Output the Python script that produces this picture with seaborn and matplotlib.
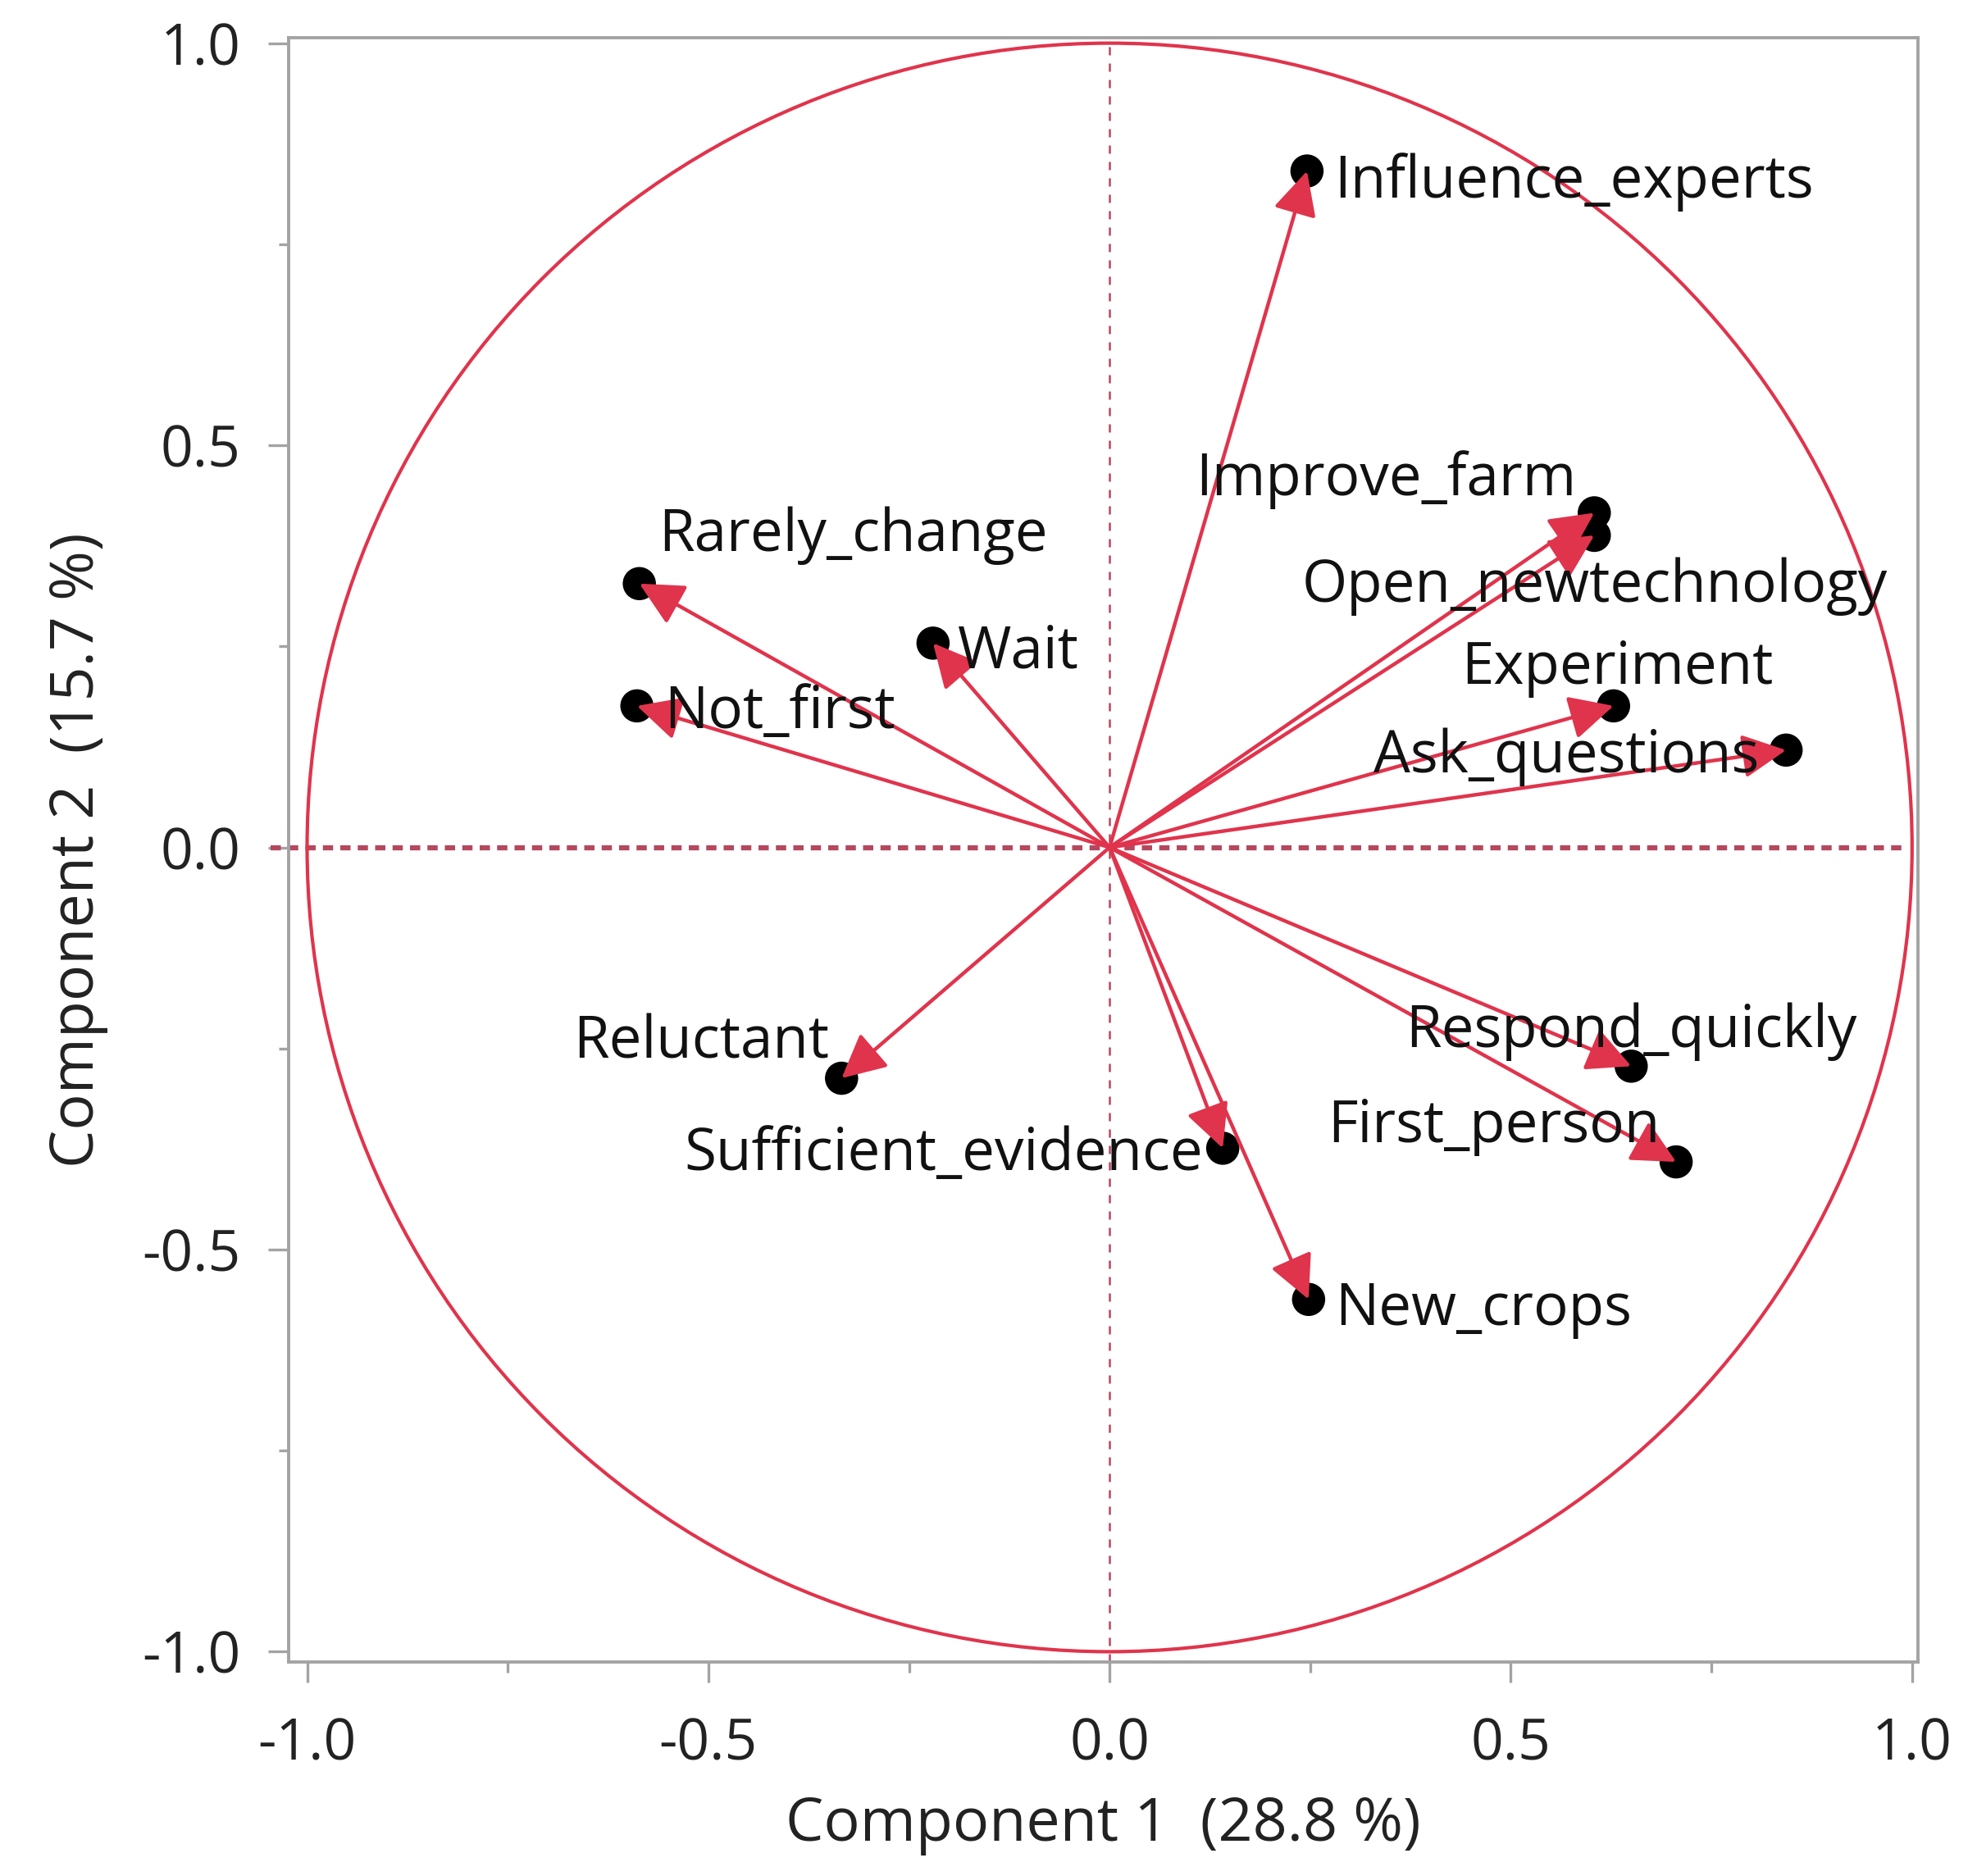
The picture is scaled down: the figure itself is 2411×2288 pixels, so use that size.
import numpy as np
import pandas as pd
import matplotlib
matplotlib.use("Agg")
import matplotlib.pyplot as plt
from matplotlib.patches import Circle
from matplotlib.ticker import MultipleLocator
import seaborn as sns

# ---------------- data ----------------
variables = ["Influence_experts", "Improve_farm", "Open_newtechnology", "Experiment",
             "Ask_questions", "Respond_quickly", "First_person", "New_crops",
             "Sufficient_evidence", "Reluctant", "Not_first", "Rarely_change", "Wait"]
pc1 = [0.246, 0.604, 0.604, 0.628, 0.843, 0.650, 0.706, 0.248, 0.141, -0.334, -0.589, -0.586, -0.220]
pc2 = [0.841, 0.416, 0.388, 0.176, 0.121, -0.272, -0.391, -0.562, -0.374, -0.287, 0.176, 0.328, 0.254]
x_title = "Component 1  (28.8 %)"
y_title = "Component 2  (15.7 %)"
tick_values = [-1.0, -0.5, 0.0, 0.5, 1.0]
tick_labels = ["-1.0", "-0.5", "0.0", "0.5", "1.0"]

# label placement (offset in points, horizontal alignment) -- layout only
label_layout = {
    "Influence_experts": (24, -10, "left"),
    "Improve_farm": (-16, 29, "right"),
    "Open_newtechnology": (0, -45, "center"),
    "Experiment": (3, 33, "center"),
    "Ask_questions": (-24, -6, "right"),
    "Respond_quickly": (0, 30, "center"),
    "First_person": (-14, 31, "right"),
    "New_crops": (23, -9, "left"),
    "Sufficient_evidence": (-17, -6, "right"),
    "Reluctant": (-11, 31, "right"),
    "Not_first": (24, -6, "left"),
    "Rarely_change": (17, 42, "left"),
    "Wait": (22, -8, "left"),
}

df = pd.DataFrame({"variable": variables, "pc1": pc1, "pc2": pc2})

sns.set_theme(style="white")
plt.rcParams["font.family"] = ["Open Sans", "DejaVu Sans"]

RED = "#E0344C"
HEAD = "#F5304D"
DASH = "#B5485E"
GRAY = "#A3A3A3"
FS_LAB = 51
FS_TICK = 50
FS_TITLE = 53

fig = plt.figure(figsize=(24.11, 22.88), dpi=100)
ax = fig.add_axes([0.146, 0.114, 0.824, 0.866])
ax.set_xlim(-1.023, 1.007)
ax.set_ylim(-1.013, 1.007)

# unit circle
ax.add_patch(Circle((0, 0), 1.0, fill=False, edgecolor=RED, lw=3.0, zorder=2))

# reference lines
ax.plot([-1.045, 0.99], [0, 0], color=DASH, lw=4.5, ls=(0, (2.0, 1.4)), zorder=1, clip_on=False)
ax.axvline(0, color=DASH, lw=1.8, ls=(0, (4, 4)), zorder=1)

# points
sns.scatterplot(data=df, x="pc1", y="pc2", color="black", s=850, edgecolor="none",
                legend=False, ax=ax, zorder=3)

# arrows
for _, r in df.iterrows():
    ax.annotate("", xy=(r.pc1, r.pc2), xytext=(0, 0),
                arrowprops=dict(arrowstyle="-|>,head_length=1.1,head_width=0.55",
                                color=RED, lw=3.2, shrinkA=0, shrinkB=0,
                                mutation_scale=30, facecolor=HEAD),
                zorder=4)

# labels
for _, r in df.iterrows():
    dx, dy, ha = label_layout[r.variable]
    ax.annotate(r.variable, xy=(r.pc1, r.pc2), xytext=(dx, dy), textcoords="offset points",
                ha=ha, va="center", fontsize=FS_LAB, color="#111111", zorder=5)

# axes styling
for s in ax.spines.values():
    s.set_color(GRAY)
    s.set_linewidth(2.8)
ax.set_xticks(tick_values)
ax.set_xticklabels(tick_labels)
ax.set_yticks(tick_values)
ax.set_yticklabels(tick_labels)
ax.xaxis.set_minor_locator(MultipleLocator(0.25))
ax.yaxis.set_minor_locator(MultipleLocator(0.25))
ax.tick_params(which="major", direction="out", length=18, width=2.4, color=GRAY,
               labelsize=FS_TICK, labelcolor="#222222", bottom=True, left=True)
ax.tick_params(axis="x", which="major", pad=30)
ax.tick_params(axis="y", which="major", pad=24)
ax.tick_params(which="minor", direction="out", length=9, width=2.4, color=GRAY,
               bottom=True, left=True)
ax.set_xlabel(x_title, fontsize=FS_TITLE, color="#222222", labelpad=18)
ax.set_ylabel(y_title, fontsize=FS_TITLE, color="#222222", labelpad=30)

fig.savefig("out.png", dpi=100, facecolor="white")
